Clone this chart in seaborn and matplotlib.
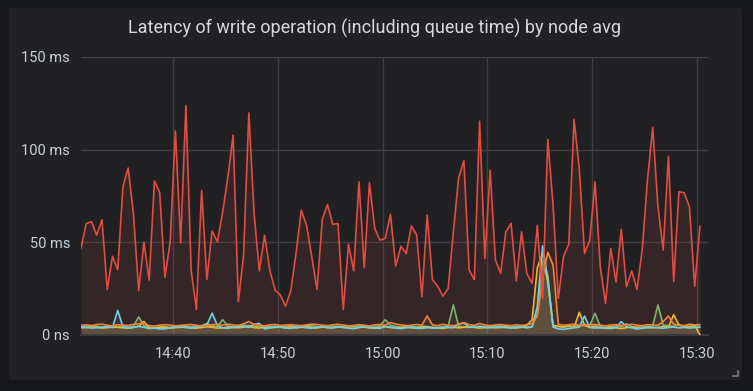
import numpy as np
import pandas as pd
import matplotlib
matplotlib.use("Agg")
import matplotlib.pyplot as plt
import matplotlib.dates as mdates
from matplotlib.patches import FancyBboxPatch
import seaborn as sns

# ---------------- data (ms), 30 s samples ----------------
start_time = "2020-01-01 14:31:15"
n_points = 119

node_red = [46.5, 60, 61, 53.7, 62, 24.3, 42.3, 35, 80, 90, 65, 23.6, 50, 29.4, 83, 76.8, 31, 50, 110, 49.5,
            123.8, 34.8, 13.5, 78, 29.7, 56, 50, 66, 85, 107.7,
            17.7, 42.9, 119.8, 65.4, 34.4, 53.7, 34.8, 24, 21.3, 15.3, 23.6, 43.8, 67.2, 59, 42, 24.3, 62.2, 70.3,
            59.5, 60, 13.5, 48.8, 34.4, 82.5, 36.2, 82, 57.3, 51, 52, 65, 37,
            47.7, 43.8, 58.7, 53.7, 20.4, 64.5, 29.7, 26.1, 20.7, 24.9, 55.5, 84.9, 93.9, 34.8, 29.7, 115.3, 41,
            88.8, 40.5, 33, 55.5, 60, 29, 55.5, 33, 27.6, 59, 19.5, 105.4, 70, 19.5,
            42.3, 48.8, 116.2, 89.7, 43.8, 51, 82.5, 36.6, 16.8, 46.5, 28.5, 56.8, 25.8, 34.4, 24.3, 45.9, 83.4,
            111.9, 69, 45.6, 96.4, 28.5, 77.1, 76.6, 69, 26.1, 58.6]

node_cyan = [4.0, 3.8, 3.5, 3.6, 3.9, 4.2, 3.7, 13.0, 4.1, 3.6,
             3.8, 4.4, 3.9, 3.2, 3.4, 3.0, 3.1, 3.6, 3.9, 4.1,
             3.7, 3.5, 3.9, 4.5, 5.2, 11.5, 5.0, 3.6, 3.4, 3.8,
             4.2, 4.6, 3.8, 5.5, 6.0, 3.0, 3.6, 4.2, 3.9, 3.5,
             3.3, 3.8, 4.0, 3.6, 3.4, 3.9, 4.3, 3.7, 3.5, 4.0,
             3.8, 3.4, 3.2, 3.9, 4.1, 3.7, 3.6, 3.3, 4.4, 4.0,
             3.5, 3.2, 3.6, 3.9, 3.4, 3.3, 3.7, 3.5, 3.4, 3.8,
             4.0, 3.6, 5.5, 6.2, 4.0, 3.9, 4.3, 3.8, 3.6, 4.1,
             3.9, 3.7, 3.5, 3.8, 4.0, 3.6, 4.2, 15.0, 48.0, 30.0,
             4.0, 3.0, 2.8, 3.2, 3.6, 4.0, 10.0, 3.8, 3.5, 3.6,
             3.4, 3.2, 3.8, 7.0, 4.2, 3.6, 3.0, 3.4, 3.7, 3.9,
             3.6, 3.4, 3.8, 4.0, 3.6, 3.8, 3.5, 3.7, 3.9]

node_green = [4.5, 4.6, 4.8, 4.3, 4.1, 4.4, 4.0, 4.2, 4.6, 4.3,
              4.5, 9.5, 4.8, 4.0, 3.8, 4.2, 4.1, 3.9, 4.3, 4.0,
              4.4, 4.2, 4.6, 4.8, 6.0, 4.5, 4.3, 8.0, 4.6, 4.2,
              4.5, 5.0, 4.8, 4.4, 4.6, 4.0, 4.3, 4.5, 4.2, 4.4,
              4.6, 4.3, 4.1, 4.5, 4.8, 4.2, 4.0, 4.4, 4.6, 4.3,
              4.1, 4.4, 4.2, 4.6, 4.5, 4.3, 4.0, 4.8, 8.0, 5.0,
              4.3, 4.0, 4.2, 4.4, 4.1, 4.5, 4.3, 4.0, 3.8, 4.2,
              4.6, 16.0, 4.4, 4.0, 3.8, 4.2, 4.5, 4.3, 4.1, 4.4,
              4.6, 4.2, 4.0, 4.3, 4.5, 4.1, 4.2, 12.0, 40.0, 32.0,
              4.5, 4.2, 4.0, 4.3, 4.6, 4.4, 5.5, 4.8, 11.5, 4.2,
              4.0, 4.3, 4.5, 4.1, 5.8, 4.2, 4.0, 4.5, 4.3, 4.6,
              16.0, 5.0, 4.8, 4.3, 5.5, 4.2, 4.4, 4.6, 4.5]

node_yellow = [3.6, 3.8, 4.2, 4.0, 3.5, 3.7, 4.1, 3.9, 3.6, 3.4,
               3.8, 4.5, 7.0, 3.6, 3.4, 3.8, 4.0, 3.5, 3.7, 3.9,
               4.1, 3.6, 3.4, 3.8, 4.2, 3.9, 3.5, 3.6, 4.0, 3.8,
               3.6, 4.0, 4.4, 3.7, 3.5, 3.9, 3.6, 3.8, 4.1, 3.7,
               4.2, 3.6, 3.9, 5.0, 3.7, 3.5, 4.0, 3.8, 3.6, 4.3,
               3.9, 3.5, 3.2, 3.8, 4.0, 3.6, 3.4, 3.9, 4.2, 3.8,
               3.5, 3.7, 4.0, 3.6, 3.4, 3.8, 4.2, 3.6, 3.5, 3.3,
               3.7, 4.0, 3.6, 3.9, 4.2, 3.8, 3.5, 3.7, 4.0, 3.6,
               3.8, 4.1, 3.7, 3.5, 3.9, 5.0, 8.0, 36.0, 44.0, 28.0,
               5.0, 4.5, 4.0, 4.8, 3.6, 12.0, 5.0, 3.8, 4.5, 3.6,
               3.4, 3.9, 3.6, 3.2, 3.7, 4.0, 3.5, 3.4, 3.8, 3.6,
               3.9, 4.2, 4.0, 10.7, 5.0, 4.4, 4.2, 4.8, 0.0]

node_orange = [5.0, 5.2, 4.8, 5.4, 5.6, 5.0, 4.7, 5.3, 5.1, 4.9,
               5.5, 5.8, 6.2, 4.8, 4.6, 5.0, 5.3, 5.1, 4.7, 4.9,
               5.2, 5.4, 5.0, 4.6, 4.8, 5.3, 5.5, 5.0, 5.6, 5.2,
               4.9, 5.8, 7.0, 5.4, 5.0, 4.7, 5.2, 5.5, 4.9, 5.1,
               5.3, 5.0, 4.8, 5.2, 5.6, 5.4, 5.0, 4.8, 5.2, 5.5,
               5.1, 4.7, 4.9, 5.3, 5.0, 4.6, 5.2, 5.4, 5.0, 6.5,
               5.6, 5.2, 4.8, 5.0, 5.4, 5.1, 10.0, 5.2, 4.8, 5.5,
               5.0, 4.7, 5.6, 6.5, 5.3, 5.0, 6.0, 5.2, 4.8, 5.1,
               5.4, 5.0, 4.8, 5.2, 4.9, 5.3, 5.8, 10.0, 30.0, 44.5,
               37.5, 5.5, 5.0, 5.3, 5.6, 5.0, 4.8, 5.2, 5.4, 5.0,
               4.7, 5.1, 5.3, 4.9, 5.2, 5.5, 5.0, 4.8, 5.3, 5.1,
               5.0, 7.0, 10.0, 5.5, 5.0, 4.8, 5.6, 5.2, 5.4]

series_names = ["node-1", "node-2", "node-3", "node-4", "node-5"]
series_values = [node_green, node_yellow, node_cyan, node_orange, node_red]
series_colors = ["#7EB26D", "#EAB839", "#6ED0E0", "#EF843C", "#E24D42"]

y_ticks = [0, 50, 100, 150]
y_tick_labels = ["0 ns", "50 ms", "100 ms", "150 ms"]
x_tick_labels = ["14:40", "14:50", "15:00", "15:10", "15:20", "15:30"]

# ---------------- build frame ----------------
times = pd.date_range(start_time, periods=n_points, freq="30s")
frames = []
for name, vals in zip(series_names, series_values):
    frames.append(pd.DataFrame({"time": times, "value": vals, "node": name}))
df = pd.concat(frames, ignore_index=True)

# ---------------- style ----------------
sns.set_theme(style="dark")
plt.rcParams["font.family"] = ["Roboto", "DejaVu Sans"]

outer_bg = "#161719"
panel_bg = "#212124"
grid_c = "#3f3f42"
text_c = "#c7d0d9"

fig = plt.figure(figsize=(7.53, 3.91), dpi=100)
fig.patch.set_facecolor(outer_bg)

# panel card
panel = FancyBboxPatch((9 / 753, 1 - 380 / 391), (742 - 9) / 753, (380 - 8) / 391,
                       boxstyle="round,pad=0,rounding_size=0.004",
                       transform=fig.transFigure, facecolor=panel_bg, edgecolor="none", zorder=-5)
fig.patches.append(panel)

ax = fig.add_axes([81 / 753, 1 - 334.5 / 391, (708 - 81) / 753, (334.5 - 57) / 391])
ax.set_facecolor("none")
ax.set_zorder(2)

palette = dict(zip(series_names, series_colors))
sns.lineplot(data=df, x="time", y="value", hue="node", palette=palette, hue_order=series_names,
             linewidth=1.2, legend=False, ax=ax, zorder=3)

for name, vals, col in zip(series_names, series_values, series_colors):
    ax.fill_between(times, 0, vals, color=col, alpha=0.1, linewidth=0, zorder=2)

ax.set_ylim(0, 150)
t0 = pd.Timestamp(start_time)
ax.set_xlim(t0, t0 + pd.Timedelta(minutes=59.77))

ax.set_yticks(y_ticks)
ax.set_yticklabels(y_tick_labels)
tick_pos = [pd.Timestamp("2020-01-01 " + t) for t in x_tick_labels]
ax.set_xticks(tick_pos)
ax.set_xticklabels(x_tick_labels)

ax.grid(True, color=grid_c, linewidth=1, zorder=1)
ax.set_axisbelow(True)
for s in ["top", "right", "left"]:
    ax.spines[s].set_visible(False)
ax.spines["bottom"].set_color("#3a3a3d")
ax.spines["bottom"].set_linewidth(1.5)

ax.tick_params(axis="both", colors=text_c, labelsize=10.5, length=0)
ax.tick_params(axis="y", pad=8)
ax.tick_params(axis="x", pad=9)
ax.set_xlabel("")
ax.set_ylabel("")

fig.text(375 / 753, 1 - 28 / 391, "Latency of write operation (including queue time) by node avg",
         ha="center", va="center", color="#d8d9da", fontsize=13)

# resize corner mark
fig.add_artist(plt.Line2D([733 / 753, 738 / 753, 738 / 753],
                          [1 - 376 / 391, 1 - 376 / 391, 1 - 371 / 391],
                          transform=fig.transFigure, color="#6e6e70", linewidth=1.5))

fig.savefig("out.png", dpi=100, facecolor=outer_bg)
